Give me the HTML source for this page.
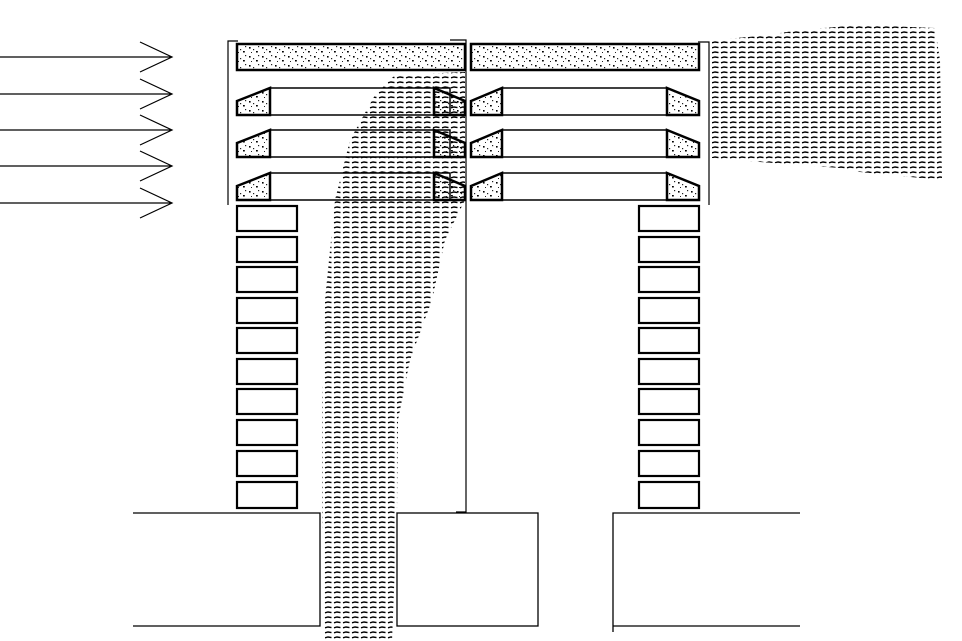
<!DOCTYPE html>
<html><head><style>html,body{margin:0;padding:0;background:#fff;width:962px;height:641px;overflow:hidden}</style></head>
<body>
<svg width="962" height="641" viewBox="0 0 962 641" xmlns="http://www.w3.org/2000/svg">
<defs>
<pattern id="h" width="9" height="5" patternUnits="userSpaceOnUse">
<path d="M1 2.8 L4 2 L7.5 2.6" stroke="#000" stroke-width="1.4" fill="none"/>
</pattern>
<pattern id="d" width="13" height="9" patternUnits="userSpaceOnUse">
<rect x="2" y="2" width="1.6" height="1.6" fill="#000"/><rect x="9" y="6" width="1.8" height="1.5" fill="#000"/><rect x="6" y="4" width="1.2" height="1.2" fill="#222"/><rect x="11" y="1" width="1.2" height="1.2" fill="#222"/><rect x="4" y="7" width="1" height="1" fill="#222"/>
</pattern>
</defs>
<g stroke="#000" fill="none" stroke-width="1.2">
<path d="M0 57H172M140 42L172 57L140 72"/>
<path d="M0 94H172M140 79L172 94L140 109"/>
<path d="M0 130H172M140 115L172 130L140 145"/>
<path d="M0 166H172M140 151L172 166L140 181"/>
<path d="M0 203H172M140 188L172 203L140 218"/>
<path d="M238 41H228V205"/>
<path d="M450 40H466V512H456"/>
<path d="M698 42H709V205"/>
</g>
<g stroke="#000" stroke-width="2.5" fill="url(#d)">
<rect x="237" y="44" width="228" height="26"/>
<rect x="471" y="44" width="228" height="26"/>
</g>
<g stroke="#000" stroke-width="1.5" fill="#fff">
<rect x="270" y="88" width="180" height="27"/>
<rect x="270" y="130" width="180" height="27"/>
<rect x="270" y="173" width="180" height="27"/>
<rect x="502" y="88" width="165" height="27"/>
<rect x="502" y="130" width="165" height="27"/>
<rect x="502" y="173" width="165" height="27"/>
</g>
<path d="M395 75 L465 72 L465 200 L445 240 L432 300 L410 360 L398 420 L397 512 L392 641 L325 641 L322 510 L322 400 L325 300 L335 200 L350 140 L375 95 Z" fill="url(#h)"/>
<path d="M712 40 L760 36 L800 30 L860 25 L935 28 L940 60 L942 180 L900 176 L860 172 L840 168 L760 162 L712 158 Z" fill="url(#h)"/>
<g stroke="#000" stroke-width="2.5" fill="url(#d)">
<path d="M237 101L270 88V115H237Z"/><path d="M237 143L270 130V157H237Z"/><path d="M237 186L270 173V200H237Z"/>
<path d="M434 88L465 101V115H434Z"/><path d="M434 130L465 143V157H434Z"/><path d="M434 173L465 186V200H434Z"/>
<path d="M471 101L502 88V115H471Z"/><path d="M471 143L502 130V157H471Z"/><path d="M471 186L502 173V200H471Z"/>
<path d="M667 88L699 101V115H667Z"/><path d="M667 130L699 143V157H667Z"/><path d="M667 173L699 186V200H667Z"/>
</g>
<g stroke="#000" stroke-width="2.2" fill="#fff">
<rect x="237" y="206" width="60" height="25"/><rect x="237" y="237" width="60" height="25"/><rect x="237" y="267" width="60" height="25"/><rect x="237" y="298" width="60" height="25"/><rect x="237" y="328" width="60" height="25"/><rect x="237" y="359" width="60" height="25"/><rect x="237" y="389" width="60" height="25"/><rect x="237" y="420" width="60" height="25"/><rect x="237" y="451" width="60" height="25"/><rect x="237" y="482" width="60" height="26"/>
<rect x="639" y="206" width="60" height="25"/><rect x="639" y="237" width="60" height="25"/><rect x="639" y="267" width="60" height="25"/><rect x="639" y="298" width="60" height="25"/><rect x="639" y="328" width="60" height="25"/><rect x="639" y="359" width="60" height="25"/><rect x="639" y="389" width="60" height="25"/><rect x="639" y="420" width="60" height="25"/><rect x="639" y="451" width="60" height="25"/><rect x="639" y="482" width="60" height="26"/>
</g>
<g stroke="#000" stroke-width="1.3" fill="none">
<path d="M133 513H320V626H133"/>
<rect x="397" y="513" width="141" height="113"/>
<path d="M613 632V513H800M613 626H800"/>
</g>
</svg>
</body></html>
